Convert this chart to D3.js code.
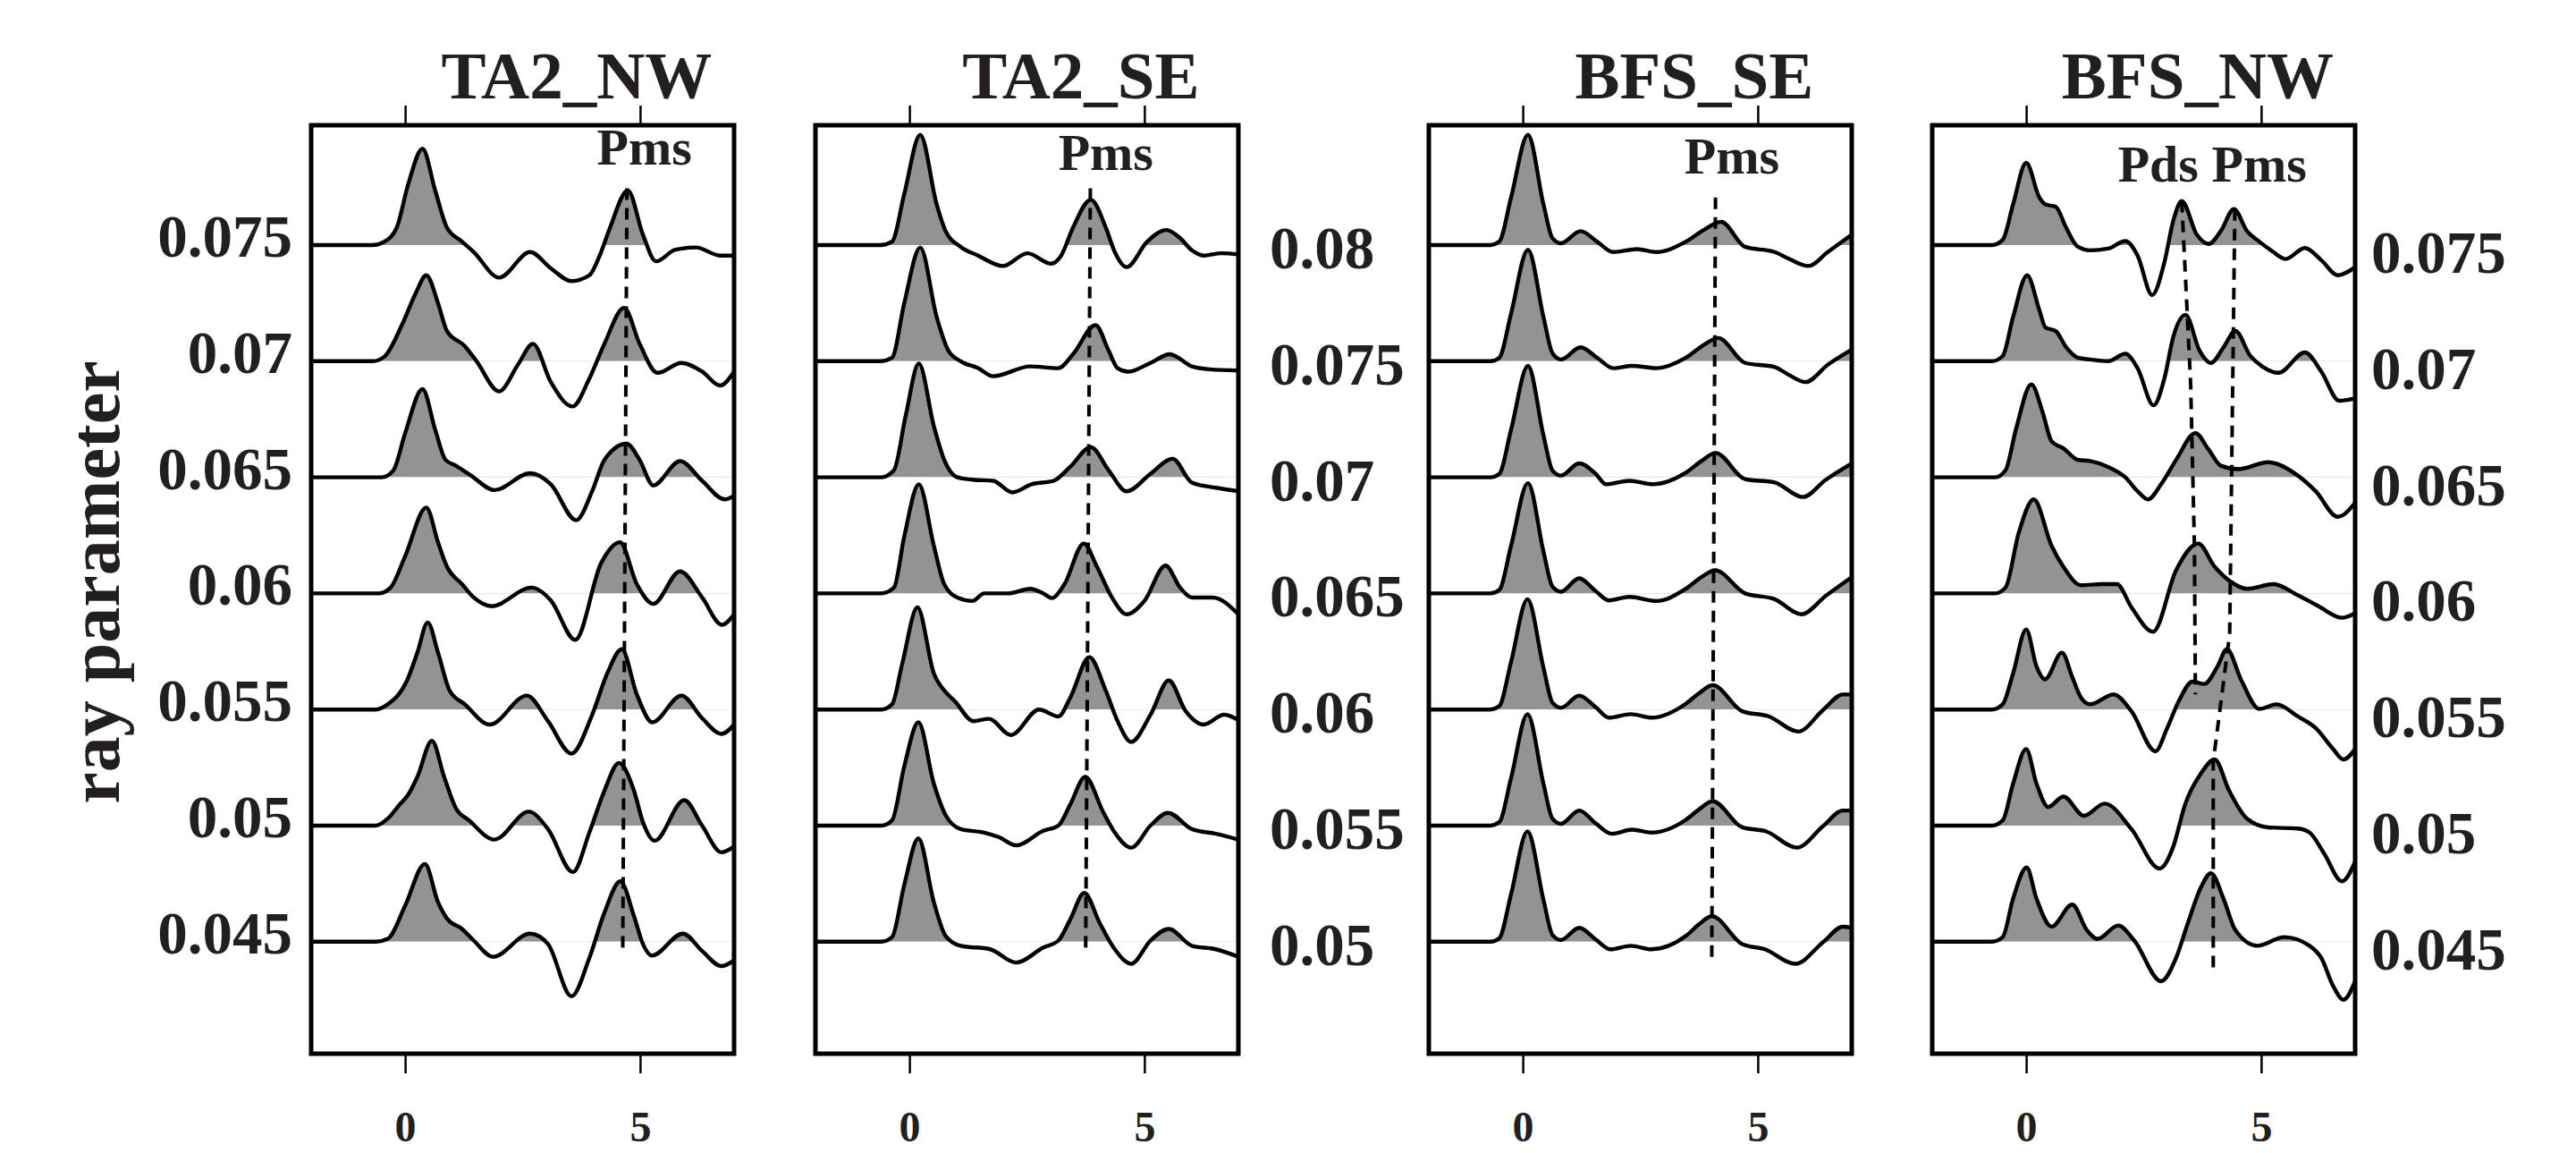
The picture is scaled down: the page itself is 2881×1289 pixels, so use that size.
<!DOCTYPE html>
<html>
<head>
<meta charset="utf-8">
<script src="https://cdn.jsdelivr.net/npm/d3@7"></script>
<style>
  body { margin: 0; background: #fff; }
  text { font-family: "Liberation Serif", "Times New Roman", serif; font-weight: bold; fill: #231f20; }
</style>
</head>
<body>
<svg id="chart" width="2881" height="1289"></svg>
<script>
// ---- data ----
const panelNames = ["TA2_NW", "TA2_SE", "BFS_SE", "BFS_NW"];
const rayLabelsNW = ["0.075", "0.07", "0.065", "0.06", "0.055", "0.05", "0.045"];
const rayLabelsSE = ["0.08", "0.075", "0.07", "0.065", "0.06", "0.055", "0.05"];
const xTicks = [0, 5];
const yTitle = "ray parameter";

// each trace: [time (s), amplitude in trace spacings]
const tracesTA2NW = [
  [[-2,0],[-0.69,0],[-0.44,0.03],[-0.18,0.15],[0.07,0.53],[0.37,0.83],[0.64,0.47],[0.89,0.15],[1.21,0.03],[1.46,-0.06],[2.0,-0.28],[2.66,-0.06],[3.1,-0.2],[3.54,-0.31],[3.92,-0.26],[4.17,-0.06],[4.36,0.15],[4.74,0.47],[5.06,0.09],[5.34,-0.14],[5.75,-0.04],[6.19,-0.02],[6.7,-0.09],[7,-0.09]],
  [[-2,0],[-0.69,0],[-0.44,0.04],[-0.06,0.32],[0.23,0.59],[0.45,0.74],[0.7,0.5],[0.89,0.26],[1.27,0.13],[1.52,0],[2.0,-0.26],[2.4,-0.03],[2.72,0.15],[3.1,-0.18],[3.56,-0.39],[3.92,-0.15],[4.24,0.15],[4.66,0.46],[4.99,0.15],[5.37,-0.1],[5.88,-0.015],[6.32,-0.09],[6.7,-0.21],[7,-0.09]],
  [[-2,0],[-0.5,0],[-0.25,0.06],[0.0,0.38],[0.37,0.76],[0.64,0.41],[0.86,0.15],[1.08,0.1],[1.4,0.015],[1.9,-0.11],[2.66,0.035],[3.1,-0.06],[3.64,-0.37],[3.98,-0.12],[4.24,0.15],[4.71,0.29],[4.99,0.15],[5.28,-0.07],[5.85,0.14],[6.32,-0.03],[6.8,-0.19],[7,-0.16]],
  [[-2,0],[-0.56,0],[-0.31,0.05],[0.0,0.32],[0.45,0.74],[0.7,0.44],[0.89,0.23],[1.21,0.08],[1.46,-0.035],[1.84,-0.11],[2.69,0.05],[3.1,-0.06],[3.62,-0.4],[4.17,0.26],[4.57,0.44],[4.93,0.08],[5.28,-0.09],[5.85,0.19],[6.32,-0.035],[6.74,-0.27],[7,-0.18]],
  [[-2,0],[-0.62,0],[-0.37,0.045],[0.04,0.25],[0.26,0.49],[0.48,0.75],[0.7,0.49],[0.95,0.16],[1.27,0.045],[1.8,-0.13],[2.59,0.12],[3.04,-0.1],[3.54,-0.38],[3.98,-0.045],[4.3,0.31],[4.61,0.52],[4.93,0.13],[5.26,-0.11],[5.88,0.12],[6.32,-0.075],[6.73,-0.21],[7,-0.13]],
  [[-2,0],[-0.62,0],[-0.37,0.06],[-0.12,0.18],[0.07,0.27],[0.26,0.42],[0.57,0.73],[0.83,0.42],[1.08,0.15],[1.36,0.045],[1.9,-0.12],[2.63,0.12],[3.04,-0.03],[3.57,-0.4],[3.92,-0.06],[4.24,0.3],[4.55,0.54],[4.87,0.3],[5.06,0.03],[5.31,-0.13],[5.94,0.22],[6.32,0],[6.73,-0.23],[7,-0.18]],
  [[-2,0],[-0.62,0],[-0.37,0.025],[0.0,0.31],[0.42,0.67],[0.7,0.34],[0.89,0.2],[1.21,0.11],[1.46,0.01],[1.87,-0.13],[2.66,0.07],[3.04,-0.02],[3.54,-0.47],[3.92,-0.14],[4.24,0.25],[4.58,0.52],[4.87,0.22],[5.06,-0.02],[5.25,-0.12],[5.91,0.07],[6.32,-0.08],[6.73,-0.21],[7,-0.16]]
];

const tracesTA2SE = [
  [[-2,0],[-0.62,0],[-0.37,0.03],[-0.11,0.44],[0.23,0.95],[0.58,0.35],[0.77,0.12],[1.09,-0.015],[1.46,-0.09],[1.99,-0.18],[2.51,-0.07],[3.01,-0.16],[3.23,-0.09],[3.48,0.15],[3.86,0.39],[4.18,0.15],[4.37,-0.06],[4.62,-0.19],[5.06,0.03],[5.47,0.13],[5.76,0.06],[6.01,-0.045],[6.26,-0.09],[6.64,-0.07],[7,-0.08]],
  [[-2,0],[-0.62,0],[-0.37,0.03],[-0.11,0.5],[0.23,0.98],[0.58,0.38],[0.83,0.09],[1.09,0],[1.46,-0.06],[1.78,-0.13],[2.57,-0.045],[3.17,-0.06],[3.48,0.06],[3.96,0.31],[4.24,0.09],[4.43,-0.06],[4.65,-0.09],[5.13,-0.015],[5.54,0.06],[6.01,-0.045],[6.39,-0.07],[7,-0.08]],
  [[-2,0],[-0.6,0],[-0.33,0.06],[-0.08,0.53],[0.2,0.98],[0.52,0.44],[0.74,0.15],[1.02,0],[1.34,-0.02],[1.78,-0.03],[2.19,-0.13],[2.6,-0.06],[3.07,-0.03],[3.42,0.09],[3.86,0.26],[4.24,0.06],[4.62,-0.12],[5.13,0.03],[5.6,0.16],[6.01,-0.045],[6.52,-0.09],[7,-0.12]],
  [[-2,0],[-0.6,0],[-0.33,0.05],[-0.11,0.49],[0.2,0.94],[0.52,0.41],[0.74,0.08],[1.02,-0.035],[1.34,-0.065],[1.59,0],[2.1,0],[2.57,0.04],[2.85,0],[3.03,-0.04],[3.3,0.08],[3.71,0.43],[3.99,0.23],[4.31,-0.035],[4.62,-0.18],[5.0,-0.065],[5.45,0.24],[5.76,0.05],[6.01,-0.035],[6.45,-0.035],[7,-0.18]],
  [[-2,0],[-0.6,0],[-0.37,0.045],[-0.15,0.4],[0.17,0.88],[0.52,0.31],[0.77,0.15],[0.96,0.075],[1.36,-0.1],[1.69,-0.08],[2.16,-0.22],[2.76,0],[3.17,-0.06],[3.42,0.1],[3.83,0.45],[4.18,0.16],[4.43,-0.1],[4.72,-0.28],[5.13,-0.045],[5.52,0.25],[5.88,-0.015],[6.26,-0.13],[6.7,-0.045],[7,-0.09]],
  [[-2,0],[-0.6,0],[-0.37,0.045],[-0.11,0.51],[0.19,0.89],[0.52,0.36],[0.77,0.09],[1.09,-0.03],[1.59,-0.06],[1.91,-0.1],[2.27,-0.17],[2.85,-0.045],[3.17,0],[3.42,0.18],[3.74,0.42],[4.12,0.12],[4.37,-0.06],[4.72,-0.19],[5.13,0],[5.5,0.11],[6.01,-0.03],[6.52,-0.07],[7,-0.12]],
  [[-2,0],[-0.6,0],[-0.37,0.04],[-0.11,0.49],[0.19,0.89],[0.52,0.34],[0.77,0.05],[1.09,-0.035],[1.72,-0.065],[2.27,-0.18],[2.85,-0.05],[3.17,0.01],[3.42,0.19],[3.72,0.42],[4.05,0.16],[4.37,-0.065],[4.72,-0.19],[5.13,0.01],[5.52,0.11],[6.01,-0.035],[6.52,-0.065],[7,-0.13]]
];

const tracesBFSSE = [
  [[-2,0],[-0.69,0],[-0.5,0.03],[-0.25,0.41],[0.11,0.95],[0.44,0.35],[0.63,0.06],[0.81,0.015],[1.23,0.12],[1.58,0.03],[1.92,-0.06],[2.43,-0.035],[2.84,-0.06],[3.47,0.03],[3.85,0.13],[4.22,0.2],[4.73,-0.015],[5.36,-0.06],[5.67,-0.12],[6.08,-0.18],[6.49,-0.06],[7,0.09]],
  [[-2,0],[-0.69,0],[-0.5,0.03],[-0.25,0.41],[0.11,0.96],[0.44,0.38],[0.63,0.07],[0.81,0.015],[1.23,0.12],[1.58,0.03],[1.92,-0.06],[2.33,-0.04],[2.84,-0.06],[3.47,0.03],[3.85,0.14],[4.16,0.2],[4.73,-0.015],[5.36,-0.05],[5.67,-0.12],[6.02,-0.18],[6.49,-0.03],[7,0.1]],
  [[-2,0],[-0.69,0],[-0.5,0.03],[-0.25,0.41],[0.11,0.96],[0.44,0.36],[0.63,0.06],[0.81,0.015],[1.2,0.12],[1.55,0.03],[1.77,-0.06],[2.27,-0.03],[2.77,-0.06],[3.47,0.04],[3.8,0.14],[4.1,0.21],[4.73,-0.015],[5.36,-0.045],[5.96,-0.17],[6.45,-0.02],[7,0.12]],
  [[-2,0],[-0.69,0],[-0.5,0.03],[-0.25,0.41],[0.11,0.95],[0.44,0.36],[0.63,0.06],[0.81,0.015],[1.2,0.13],[1.55,0.02],[1.83,-0.06],[2.27,-0.03],[2.84,-0.065],[3.47,0.04],[3.8,0.14],[4.09,0.2],[4.73,0],[5.36,-0.05],[5.93,-0.18],[6.45,-0.02],[7,0.14]],
  [[-2,0],[-0.69,0],[-0.5,0.03],[-0.25,0.41],[0.1,0.95],[0.44,0.36],[0.63,0.06],[0.81,0.015],[1.2,0.12],[1.55,0.02],[1.83,-0.07],[2.3,-0.04],[2.75,-0.07],[3.47,0.05],[3.75,0.14],[4.04,0.21],[4.67,-0.015],[5.24,-0.06],[5.86,-0.19],[6.4,0.0],[6.81,0.13],[7,0.13]],
  [[-2,0],[-0.69,0],[-0.5,0.03],[-0.25,0.41],[0.1,0.96],[0.44,0.36],[0.63,0.06],[0.81,0.015],[1.2,0.13],[1.55,0.02],[1.89,-0.07],[2.33,-0.035],[2.74,-0.06],[3.47,0.05],[3.75,0.14],[4.04,0.21],[4.67,-0.015],[5.18,-0.05],[5.83,-0.19],[6.4,0.0],[6.81,0.13],[7,0.13]],
  [[-2,0],[-0.69,0],[-0.5,0.03],[-0.25,0.41],[0.1,0.95],[0.44,0.36],[0.63,0.06],[0.81,0.015],[1.2,0.12],[1.55,0.02],[1.86,-0.065],[2.3,-0.035],[2.74,-0.065],[3.47,0.05],[3.75,0.15],[4.02,0.22],[4.67,-0.02],[5.15,-0.065],[5.8,-0.19],[6.4,0.0],[6.81,0.13],[7,0.12]]
];

const tracesBFSNW = [
  [[-2,0],[-0.73,0],[-0.5,0.045],[-0.28,0.35],[0.0,0.71],[0.28,0.41],[0.41,0.35],[0.63,0.33],[0.85,0.15],[1.1,-0.015],[1.36,-0.045],[1.74,-0.03],[2.11,0.035],[2.37,-0.09],[2.68,-0.43],[2.94,-0.15],[3.13,0.21],[3.31,0.38],[3.63,0.09],[3.88,0.01],[4.14,0.12],[4.42,0.31],[4.7,0.12],[4.96,0.03],[5.21,-0.045],[5.52,-0.12],[5.93,-0.025],[6.28,-0.13],[6.63,-0.26],[7,-0.19]],
  [[-2,0],[-0.73,0],[-0.5,0.045],[-0.28,0.38],[0.02,0.74],[0.28,0.44],[0.41,0.29],[0.63,0.26],[0.85,0.12],[1.1,0.03],[1.36,0.015],[1.74,0],[2.11,0.065],[2.37,-0.06],[2.71,-0.38],[2.94,-0.15],[3.13,0.21],[3.39,0.4],[3.69,0.09],[3.93,-0.015],[4.2,0.12],[4.45,0.26],[4.77,0.045],[5.02,-0.045],[5.37,-0.1],[5.93,0.075],[6.28,-0.09],[6.66,-0.34],[7,-0.32]],
  [[-2,0],[-0.66,0],[-0.44,0.06],[-0.22,0.41],[0.11,0.8],[0.35,0.56],[0.54,0.31],[0.79,0.25],[1.1,0.15],[1.36,0.14],[1.74,0.09],[2.11,0],[2.37,-0.12],[2.59,-0.19],[2.87,-0.06],[3.19,0.15],[3.6,0.38],[3.88,0.24],[4.14,0.1],[4.51,0.07],[5.15,0.13],[5.78,0.015],[6.16,-0.12],[6.63,-0.34],[7,-0.22]],
  [[-2,0],[-0.66,0],[-0.44,0.05],[-0.16,0.52],[0.16,0.81],[0.54,0.41],[0.79,0.23],[1.17,0.07],[1.61,0.08],[1.93,0.08],[2.24,-0.12],[2.7,-0.33],[3.19,0.2],[3.66,0.43],[4.01,0.23],[4.32,0.11],[4.7,0.04],[5.27,0.08],[5.71,0],[6.22,-0.11],[6.72,-0.21],[7,-0.17]],
  [[-2,0],[-0.73,0],[-0.5,0.045],[-0.28,0.31],[0.0,0.69],[0.22,0.37],[0.4,0.26],[0.76,0.49],[0.98,0.28],[1.17,0.1],[1.36,0.045],[1.86,0.13],[2.24,-0.015],[2.75,-0.36],[3.0,-0.16],[3.25,0.075],[3.54,0.24],[3.79,0.22],[4.07,0.37],[4.27,0.52],[4.58,0.25],[4.96,0.005],[5.33,0.045],[5.78,-0.06],[6.16,-0.16],[6.53,-0.34],[6.75,-0.43],[7,-0.34]],
  [[-2,0],[-0.73,0],[-0.5,0.045],[-0.28,0.36],[0.0,0.66],[0.22,0.36],[0.47,0.16],[0.79,0.25],[1.23,0.085],[1.67,0.19],[2.24,-0.03],[2.84,-0.37],[3.13,-0.18],[3.38,0.18],[3.72,0.45],[4.01,0.57],[4.32,0.3],[4.7,0.06],[5.15,-0.015],[5.78,-0.025],[6.03,-0.06],[6.34,-0.24],[6.72,-0.48],[7,-0.31]],
  [[-2,0],[-0.73,0],[-0.5,0.04],[-0.28,0.37],[0.01,0.64],[0.22,0.37],[0.54,0.13],[0.98,0.32],[1.29,0.1],[1.52,0.025],[1.96,0.14],[2.3,0.01],[2.87,-0.34],[3.19,-0.14],[3.44,0.16],[3.72,0.47],[3.93,0.59],[4.2,0.37],[4.45,0.1],[4.92,-0.035],[5.49,0.04],[6.03,-0.035],[6.28,-0.14],[6.53,-0.38],[6.75,-0.5],[7,-0.34]]
];

// picked phases: [time (s), trace row]
const phasesTA2NW = [{ name: "Pms", path: [[4.72, -0.49], [4.63, 6.11]] }];
const phasesTA2SE = [{ name: "Pms", path: [[3.85, -0.49], [3.75, 6.11]] }];
const phasesBFSSE = [{ name: "Pms", path: [[4.1, -0.41], [4.02, 6.19]] }];
const phasesBFSNW = [
  { name: "Pds", path: [[3.31, -0.38], [3.5, 1.2], [3.58, 2.6], [3.6, 3.87]] },
  { name: "Pms", path: [[4.44, -0.31], [4.33, 3.35], [3.98, 4.45], [3.98, 6.25]] }
];

// ---- layout ----
const panelLeft = [348, 912, 1598, 2161];
const panelW = 473;
const frameTop = 140, frameBottom = 1178;
const yRow = d3.scaleLinear().domain([0, 6]).range([274, 274 + 6 * 129.8]);

const panels = [
  { name: panelNames[0], traces: tracesTA2NW, phases: phasesTA2NW, labels: rayLabelsNW, side: "left",  labelDy: 13, phaseLabelAt: [[5.09, -0.69]] },
  { name: panelNames[1], traces: tracesTA2SE, phases: phasesTA2SE, labels: rayLabelsSE, side: "right", labelDy: 26, phaseLabelAt: [[4.18, -0.65]] },
  { name: panelNames[2], traces: tracesBFSSE, phases: phasesBFSSE, labels: null,        side: null,    labelDy: 0,  phaseLabelAt: [[4.45, -0.62]] },
  { name: panelNames[3], traces: tracesBFSNW, phases: phasesBFSNW, labels: rayLabelsNW, side: "right", labelDy: 31, phaseLabelAt: [[2.81, -0.55], [4.96, -0.55]] }
];

const svg = d3.select("#chart");
const defs = svg.append("defs");

panels.forEach((p, k) => {
  const x = d3.scaleLinear().domain([-2, 7]).range([panelLeft[k], panelLeft[k] + panelW]);
  const g = svg.append("g").attr("class", "panel");

  // positive lobes filled grey
  p.traces.forEach((tr, i) => {
    const base = yRow(i);
    defs.append("clipPath")
        .attr("id", `pos_${k}_${i}`)
        .append("rect")
        .attr("x", panelLeft[k])
        .attr("y", frameTop)
        .attr("width", panelW)
        .attr("height", base - frameTop);

    const area = d3.area()
                   .x(d => x(d[0]))
                   .y0(base)
                   .y1(d => yRow(i - d[1]))
                   .curve(d3.curveMonotoneX);

    g.append("path")
        .datum(tr)
        .attr("clip-path", `url(#pos_${k}_${i})`)
        .attr("fill", "#939393")
        .attr("d", area);
  });

  p.traces.forEach((tr, i) => {
    const line = d3.line()
                   .x(d => x(d[0]))
                   .y(d => yRow(i - d[1]))
                   .curve(d3.curveMonotoneX);
    g.append("path")
        .datum(tr)
        .attr("fill", "none")
        .attr("stroke", "#000")
        .attr("stroke-width", 4.4)
        .attr("stroke-linejoin", "round")
        .attr("d", line);
  });

  // phase picks
  const phaseLine = d3.line().x(d => x(d[0])).y(d => yRow(d[1]));
  g.selectAll("path.phase")
      .data(p.phases)
      .enter()
      .append("path")
      .attr("class", "phase")
      .attr("fill", "none")
      .attr("stroke", "#000")
      .attr("stroke-width", 4)
      .attr("stroke-dasharray", "13,9")
      .attr("d", d => phaseLine(d.path));

  g.selectAll("text.phase")
      .data(p.phases)
      .enter()
      .append("text")
      .attr("class", "phase")
      .attr("x", (d, j) => x(p.phaseLabelAt[j][0]))
      .attr("y", (d, j) => yRow(p.phaseLabelAt[j][1]))
      .attr("text-anchor", "middle")
      .style("font-size", "58px")
      .text(d => d.name);

  // frame
  g.append("rect")
      .attr("x", panelLeft[k])
      .attr("y", frameTop)
      .attr("width", panelW)
      .attr("height", frameBottom - frameTop)
      .attr("fill", "none")
      .attr("stroke", "#000")
      .attr("stroke-width", 5);

  // axes
  const xb = g.append("g")
              .attr("transform", `translate(0, ${frameBottom + 2})`)
              .call(d3.axisBottom(x).tickValues(xTicks).tickSize(20).tickSizeOuter(0).tickPadding(42));
  const xt = g.append("g")
              .attr("transform", `translate(0, ${frameTop - 2})`)
              .call(d3.axisTop(x).tickValues(xTicks).tickSize(20).tickSizeOuter(0).tickFormat(""));
  [xb, xt].forEach(a => {
    a.select(".domain").remove();
    a.selectAll(".tick line").attr("stroke", "#000").attr("stroke-width", 2.5);
  });
  xb.selectAll(".tick text")
      .style("font-size", "48px")
      .style("font-family", '"Liberation Serif", serif')
      .style("font-weight", "bold")
      .attr("fill", "#231f20");

  // title
  g.append("text")
      .attr("x", x(3.65))
      .attr("y", 110)
      .attr("text-anchor", "middle")
      .style("font-size", "75px")
      .text(p.name);

  // ray parameter labels
  if (p.labels) {
    g.selectAll("text.ray")
        .data(p.labels)
        .enter()
        .append("text")
        .attr("class", "ray")
        .attr("x", p.side === "left" ? panelLeft[k] - 21 : panelLeft[k] + panelW + (k === 1 ? 35 : 18))
        .attr("y", (d, i) => yRow(i) + p.labelDy)
        .attr("text-anchor", p.side === "left" ? "end" : "start")
        .style("font-size", "67px")
        .text(d => d);
  }
});

svg.append("text")
    .attr("transform", `translate(133, 651) rotate(-90)`)
    .attr("text-anchor", "middle")
    .style("font-size", "80px")
    .text(yTitle);
</script>
</body>
</html>
